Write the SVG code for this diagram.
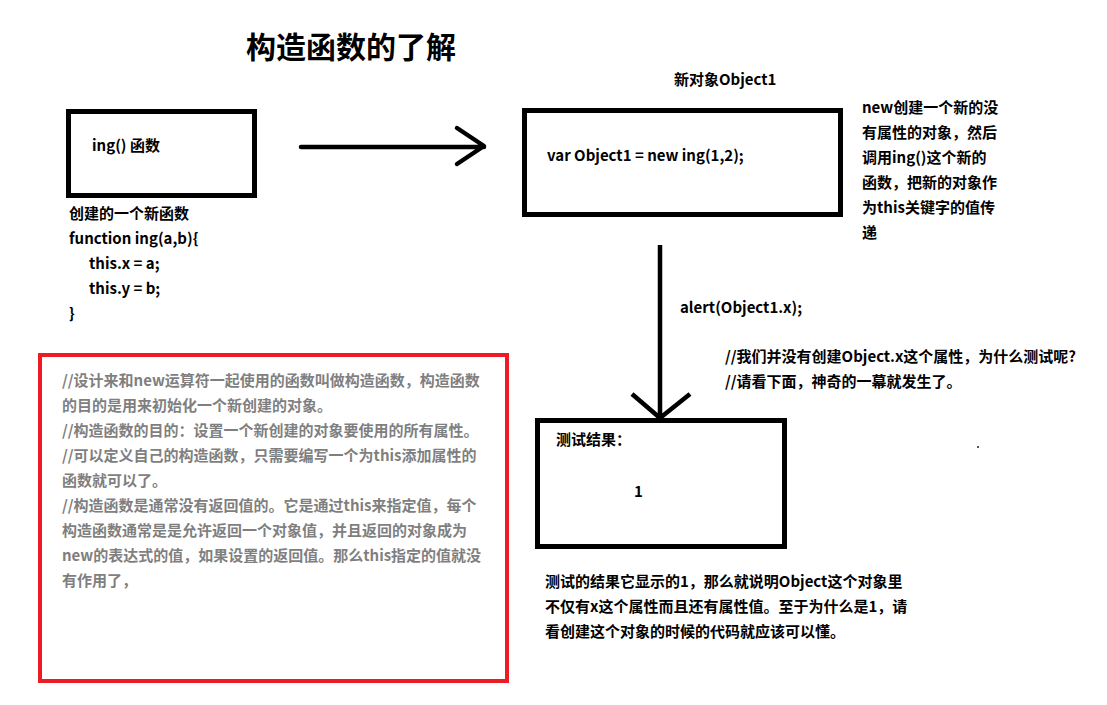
<svg xmlns="http://www.w3.org/2000/svg" width="1107" height="705" viewBox="0 0 1107 705">
<style>
text{font-family:"Noto Sans CJK SC","Microsoft YaHei",sans-serif;font-weight:bold;font-size:15px;fill:#000}
.box{fill:#fff;stroke:#000;stroke-width:5}
.gray{fill:#7f7f7f}
.conn{fill:none;stroke:#000;stroke-width:4.5;stroke-linecap:round;stroke-linejoin:round}
</style>
<rect width="1107" height="705" fill="#fff"/>
<text x="246" y="58" style="font-size:30px">构造函数的了解</text>
<g id="connectors">
<path class="conn" d="M301,147 H484 M457,128 L484,146 L457,164"/>
<path class="conn" d="M660,245 V418 M632,394 L660,418 L690,394" style="stroke-linecap:butt"/>
</g>
<g id="node-ing">
<rect class="box" x="68.5" y="111.5" width="186" height="84"/>
<text x="92" y="151">ing() 函数</text>
</g>
<g id="note-function">
<text x="69" y="219">创建的一个新函数</text>
<text x="69" y="244">function ing(a,b){</text>
<text x="89" y="269">this.x = a;</text>
<text x="89" y="294">this.y = b;</text>
<text x="69" y="319">}</text>
</g>
<g id="node-object1">
<text x="674" y="85">新对象Object1</text>
<rect class="box" x="524.5" y="110.5" width="316" height="104"/>
<text x="547" y="161">var Object1 = new ing(1,2);</text>
</g>
<g id="note-new">
<text x="862" y="113">new创建一个新的没</text>
<text x="862" y="138">有属性的对象，然后</text>
<text x="862" y="163">调用ing()这个新的</text>
<text x="862" y="188">函数，把新的对象作</text>
<text x="862" y="213">为this关键字的值传</text>
<text x="862" y="238">递</text>
</g>
<g id="label-alert">
<text x="680" y="313">alert(Object1.x);</text>
<text x="725" y="362">//我们并没有创建Object.x这个属性，为什么测试呢?</text>
<text x="725" y="387">//请看下面，神奇的一幕就发生了。</text>
</g>
<g id="node-result">
<rect class="box" x="537.5" y="420.5" width="247" height="126"/>
<text x="556" y="445">测试结果：</text>
<text x="634" y="497">1</text>
</g>
<rect x="977" y="446" width="2" height="2" fill="#555"/>
<g id="note-result">
<text x="545" y="587">测试的结果它显示的1，那么就说明Object这个对象里</text>
<text x="545" y="612">不仅有x这个属性而且还有属性值。至于为什么是1，请</text>
<text x="545" y="637">看创建这个对象的时候的代码就应该可以懂。</text>
</g>
<g id="node-constructor-note">
<rect x="40" y="355" width="467" height="326" fill="#fff" stroke="#ed1c24" stroke-width="4"/>
<text class="gray" x="62" y="386">//设计来和new运算符一起使用的函数叫做构造函数，构造函数</text>
<text class="gray" x="62" y="411">的目的是用来初始化一个新创建的对象。</text>
<text class="gray" x="62" y="436">//构造函数的目的：设置一个新创建的对象要使用的所有属性。</text>
<text class="gray" x="62" y="461">//可以定义自己的构造函数，只需要编写一个为this添加属性的</text>
<text class="gray" x="62" y="486">函数就可以了。</text>
<text class="gray" x="62" y="511">//构造函数是通常没有返回值的。它是通过this来指定值，每个</text>
<text class="gray" x="62" y="536">构造函数通常是是允许返回一个对象值，并且返回的对象成为</text>
<text class="gray" x="62" y="561">new的表达式的值，如果设置的返回值。那么this指定的值就没</text>
<text class="gray" x="62" y="586">有作用了，</text>
</g>
</svg>
